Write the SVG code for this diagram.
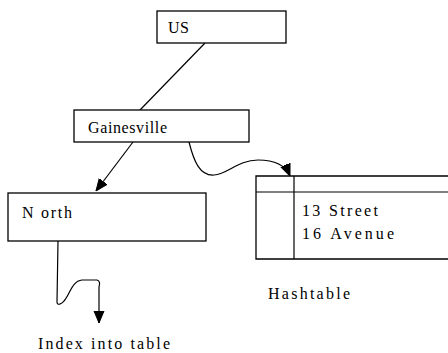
<svg xmlns="http://www.w3.org/2000/svg" width="448" height="353" viewBox="0 0 448 353">
<defs>
<style>
.box{fill:#fff;stroke:#000;stroke-width:1.3}
.t{font-family:'Liberation Serif','Times New Roman',serif;font-size:16px;fill:#000}
.ln{fill:none;stroke:#000;stroke-width:1.2}
</style>
<marker id="ah" viewBox="0 0 12 10" refX="12" refY="5" markerWidth="12" markerHeight="12" markerUnits="userSpaceOnUse" orient="auto">
<path d="M0,0 L12,5 L0,10 Z" fill="#000" stroke="#000" stroke-width="1"/>
</marker>
</defs>
<rect width="448" height="353" fill="#fff"/>
<g id="connectors">
<line class="ln" x1="205" y1="43" x2="140" y2="110"/>
<path class="ln" d="M133,142 L96,191" marker-end="url(#ah)"/>
<path class="ln" d="M189,142 C194,162 200,176 214,175 C228,174 238,160 258,160 C272,160 285,164 290,176" marker-end="url(#ah)"/>
<path class="ln" d="M58,241 L57,302 C57,306 62,304 64,301 C70,294 72,281 82,280 L97,280 C100,281 100,284 99,287 L99,323" marker-end="url(#ah)"/>
</g>
<g id="us">
<rect class="box" x="157" y="11" width="129" height="32"/>
<text class="t" x="168" y="33" textLength="21">US</text>
</g>
<g id="gainesville">
<rect class="box" x="74" y="110" width="175" height="32"/>
<text class="t" x="88" y="133" textLength="79">Gainesville</text>
</g>
<g id="north">
<rect class="box" x="8" y="193" width="198" height="48"/>
<text class="t" x="22" y="218" textLength="50">N orth</text>
</g>
<g id="hashtable">
<path class="box" d="M450,176 L256,176 L256,259 L450,259"/>
<line class="ln" x1="256" y1="192" x2="450" y2="192" stroke-width="1.3"/>
<line class="ln" x1="294" y1="176" x2="294" y2="259" stroke-width="1.3"/>
<text class="t" x="302" y="216" textLength="76">13 Street</text>
<text class="t" x="302" y="239" textLength="92">16 Avenue</text>
<text class="t" x="268" y="299" textLength="82">Hashtable</text>
</g>
<g id="index">
<text class="t" x="38" y="349" textLength="132">Index into table</text>
</g>
</svg>
